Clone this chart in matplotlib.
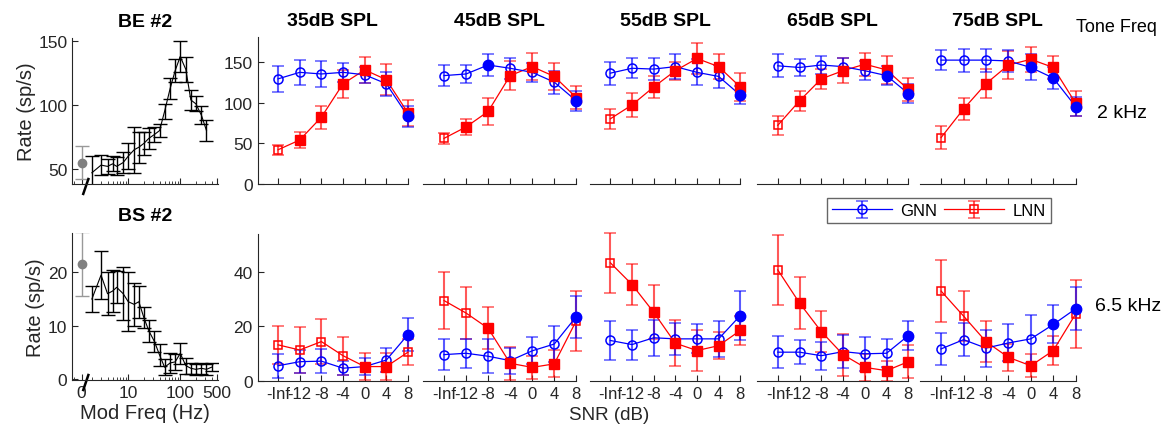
import numpy as np
import matplotlib
matplotlib.use('Agg')
import matplotlib.pyplot as plt
from matplotlib.ticker import LogLocator, NullFormatter

plt.rcParams['font.family'] = ['Liberation Sans', 'DejaVu Sans']

W, H = 1168, 435

levels = ['35dB SPL', '45dB SPL', '55dB SPL', '65dB SPL', '75dB SPL']
snr_labels = ['-Inf', '-12', '-8', '-4', '0', '4', '8']

# modulation transfer functions (left column)
mod_freq = [2, 3, 4, 5, 6, 8, 10, 13, 16, 20, 25, 32, 40, 50, 64, 80, 100,
            128, 160, 200, 256, 320, 400]
be_rate = [47, 53, 52, 54, 52, 55, 60, 65, 67, 70, 74, 77, 80, 95, 113, 127,
           138, 128, 104, 101, 92, 80]
be_err = [13, 8, 6, 6, 7, 8, 10, 18, 12, 9, 8, 6, 5, 6, 8, 9, 12, 10, 8, 6, 7, 8]
be_unmod, be_unmod_err = 55, 13
bs_rate = [15, 19.5, 16, 16.5, 17.2, 16, 14.5, 14, 14.5, 11.5, 9, 7, 4.5, 2.2,
           3, 3.2, 4.8, 2.5, 2.0, 1.8, 2.0, 1.8, 2.2]
bs_err = [2.5, 4.5, 4, 4, 3, 5, 5.5, 4, 3, 2, 2, 2, 2, 1.5, 1.8, 1.5, 2, 1.5,
          1, 1, 1, 1, 0.8]
bs_unmod, bs_unmod_err = 21.5, 6

# 2 kHz tone (BE #2)
gnn_2k = [[129, 137, 135, 137, 134, 123, 83],
          [133, 135, 146, 142, 137, 125, 102],
          [136, 142, 141, 144, 137, 132, 109],
          [145, 143, 146, 144, 139, 133, 111],
          [152, 152, 152, 151, 143, 130, 95]]
gnn_2k_err = [[16, 15, 16, 12, 10, 15, 13],
              [13, 11, 13, 13, 12, 14, 12],
              [14, 12, 14, 15, 16, 14, 11],
              [14, 10, 11, 11, 12, 12, 12],
              [12, 14, 14, 13, 16, 13, 12]]
gnn_2k_fill = [[0, 0, 0, 0, 0, 0, 1],
               [0, 0, 1, 0, 0, 0, 1],
               [0, 0, 0, 0, 0, 0, 1],
               [0, 0, 0, 0, 0, 1, 1],
               [0, 0, 0, 0, 1, 1, 1]]
lnn_2k = [[42, 54, 82, 123, 140, 128, 87],
          [56, 70, 89, 133, 144, 132, 106],
          [80, 97, 119, 139, 154, 144, 119],
          [72, 102, 129, 139, 147, 140, 116],
          [57, 92, 123, 146, 153, 143, 99]]
lnn_2k_err = [[6, 10, 14, 17, 16, 19, 16],
              [7, 10, 17, 18, 17, 17, 14],
              [12, 15, 13, 11, 19, 15, 17],
              [12, 12, 12, 15, 14, 17, 14],
              [14, 14, 18, 17, 15, 14, 15]]
lnn_2k_fill = [[0, 1, 1, 1, 1, 1, 1]] * 5

# 6.5 kHz tone (BS #2)
gnn_6k = [[5.5, 7, 7.2, 4.6, 5.2, 7.6, 17],
          [9.6, 10.1, 9, 7.4, 11, 13.5, 23.6],
          [14.8, 13.3, 15.8, 15.4, 15.4, 15.4, 24],
          [10.5, 10.5, 9.2, 10.7, 9.9, 10.1, 16.6],
          [11.7, 15.1, 12, 13.9, 15.4, 20.7, 26.5]]
gnn_6k_err = [[4.5, 4.2, 4.3, 2.6, 3, 4.3, 6.2],
              [5.7, 5.4, 6.2, 4.8, 5, 6.6, 7.7],
              [7.1, 5.5, 6.6, 5.8, 5.3, 6.5, 8.9],
              [5.9, 4.4, 5.2, 6.1, 6.3, 5.2, 5.3],
              [5.9, 6, 6.8, 6.8, 8.8, 7, 7.9]]
gnn_6k_fill = [[0, 0, 0, 0, 0, 0, 1],
               [0, 0, 0, 0, 0, 0, 1],
               [0, 0, 0, 0, 0, 0, 1],
               [0, 0, 0, 0, 0, 0, 1],
               [0, 0, 0, 0, 0, 1, 1]]
lnn_6k = [[13.2, 11.3, 14.4, 9.2, 5.2, 5.2, 10.5],
          [29.5, 24.9, 19.3, 6.4, 4.9, 6.2, 22.1],
          [43.4, 35.4, 25.2, 13.8, 11.1, 12.9, 18.5],
          [40.8, 28.6, 18.1, 9.6, 4.9, 3.7, 7],
          [33, 23.8, 14.4, 8.6, 5.5, 11.1, 24.6]]
lnn_6k_err = [[7, 8.3, 8.4, 7, 5, 5, 4.9],
              [10.5, 9.5, 7.7, 6, 4.2, 5, 11],
              [11, 7.7, 10, 8.5, 7.6, 5, 5.4],
              [13, 9.4, 7.5, 7.7, 4.9, 3.7, 6],
              [11.3, 9.3, 7.6, 5, 4.2, 5.4, 12.5]]
lnn_6k_fill = [[0, 0, 0, 0, 1, 1, 0],
               [0, 0, 1, 1, 1, 1, 0],
               [0, 1, 1, 1, 1, 1, 1],
               [0, 1, 1, 1, 1, 1, 1],
               [0, 0, 1, 1, 1, 1, 0]]

BLUE = (0, 0, 1)
RED = (1, 0, 0)
AXC = '0.15'
TICK_FS = 12.5


def px_box(left, top, right, bottom):
    return [left / W, 1 - bottom / H, (right - left) / W, (bottom - top) / H]


def style_axis(ax):
    for s in ['top', 'right']:
        ax.spines[s].set_visible(False)
    for s in ['left', 'bottom']:
        ax.spines[s].set_color(AXC)
    ax.tick_params(which='both', direction='in', colors=AXC, labelsize=TICK_FS)
    ax.tick_params(which='major', length=4.5)
    ax.tick_params(which='minor', length=2.5)


def draw_series(ax, vals, errs, fill, color, marker, ms):
    x = np.arange(1, len(vals) + 1)
    ecol = color + (0.65,)
    cont = ax.errorbar(x, vals, yerr=errs, color=color, lw=0.9, marker=marker,
                       ms=ms, mfc='none', mec=color, mew=1.1, ecolor=ecol,
                       elinewidth=1.5, capsize=4, capthick=1.5, clip_on=False)
    fx = [xi for xi, f in zip(x, fill) if f]
    fy = [v for v, f in zip(vals, fill) if f]
    ax.plot(fx, fy, ls='none', marker=marker, ms=ms + 1, color=color,
            clip_on=False, zorder=3)
    return cont


fig = plt.figure(figsize=(W / 100, H / 100), dpi=100)

lefts = [257.7, 423.3, 590, 757.3, 920]
rights = [408, 576.3, 740.3, 908.3, 1075.7]
rows = [
    dict(top=38.3, bottom=185, ylim=(0, 180), yticks=[0, 50, 100, 150],
         gnn=gnn_2k, gnn_err=gnn_2k_err, gnn_fill=gnn_2k_fill,
         lnn=lnn_2k, lnn_err=lnn_2k_err, lnn_fill=lnn_2k_fill),
    dict(top=235, bottom=381.7, ylim=(0, 54), yticks=[0, 20, 40],
         gnn=gnn_6k, gnn_err=gnn_6k_err, gnn_fill=gnn_6k_fill,
         lnn=lnn_6k, lnn_err=lnn_6k_err, lnn_fill=lnn_6k_fill),
]

handles = None
for r, row in enumerate(rows):
    for i in range(5):
        ax = fig.add_axes(px_box(lefts[i], row['top'], rights[i], row['bottom']))
        style_axis(ax)
        hl = draw_series(ax, row['lnn'][i], row['lnn_err'][i], row['lnn_fill'][i],
                         RED, 's', 6)
        hg = draw_series(ax, row['gnn'][i], row['gnn_err'][i], row['gnn_fill'][i],
                         BLUE, 'o', 6.5)
        if handles is None:
            handles = [hg, hl]
        ax.set_xlim(0.06, 7)
        ax.set_ylim(*row['ylim'])
        ax.set_xticks(range(1, 8))
        if r == 0:
            ax.set_xticklabels([])
            ax.set_title(levels[i], fontsize=14, fontweight='bold', pad=9)
        else:
            ax.set_xticklabels(snr_labels, fontsize=12)
        if i == 0:
            ax.set_yticks(row['yticks'])
        else:
            ax.spines['left'].set_visible(False)
            ax.set_yticks([])

# left column: MTFs
zero_pos = 1.27
mtf = [
    dict(top=39.3, bottom=185, rate=be_rate, err=be_err, unmod=be_unmod,
         unmod_err=be_unmod_err, ylim=(38.2, 152.3), yticks=[50, 100, 150],
         title='BE #2'),
    dict(top=234, bottom=381, rate=bs_rate, err=bs_err, unmod=bs_unmod,
         unmod_err=bs_unmod_err, ylim=(-0.2, 27.4), yticks=[0, 10, 20],
         title='BS #2'),
]
for r, m in enumerate(mtf):
    ax = fig.add_axes(px_box(72.3, m['top'], 218.3, m['bottom']))
    style_axis(ax)
    ax.set_xscale('log')
    n = len(m['rate'])
    ax.errorbar(mod_freq[:n], m['rate'], yerr=m['err'], color='k', lw=0.8,
                elinewidth=1.0, capsize=5, capthick=1.0)
    ax.errorbar([zero_pos], [m['unmod']], yerr=[m['unmod_err']], fmt='o',
                color='0.5', ecolor='0.6', ms=6, elinewidth=1.0, capsize=5)
    ax.set_xlim(0.84, 540)
    ax.set_ylim(*m['ylim'])
    ax.set_yticks(m['yticks'])
    ax.set_xticks([zero_pos, 10, 100, 500])
    ax.xaxis.set_minor_locator(LogLocator(base=10, subs=np.arange(2, 10), numticks=20))
    ax.xaxis.set_minor_formatter(NullFormatter())
    if r == 0:
        ax.set_xticklabels([])
    else:
        ax.set_xticklabels(['0', '10', '100', '500'])
        ax.set_xlabel('Mod Freq (Hz)', fontsize=14.5, color=AXC, labelpad=2)
    ax.set_ylabel('Rate (sp/s)', fontsize=14.5, color=AXC, labelpad=2)
    ax.set_title(m['title'], fontsize=14, fontweight='bold', pad=9)
    # axis break mark
    ax.plot([0.075, 0.11], [-0.068, 0.034], transform=ax.transAxes, color='k',
            lw=1.8, clip_on=False)

fig.text(1116.7 / W, 1 - 27.3 / H, 'Tone Freq', fontsize=13, ha='center', va='center')
fig.text(1121.7 / W, 1 - 113.3 / H, '2 kHz', fontsize=14, ha='center', va='center')
fig.text(1128 / W, 1 - 306.7 / H, '6.5 kHz', fontsize=14, ha='center', va='center')
fig.text(609 / W, 1 - 416 / H, 'SNR (dB)', fontsize=13.5, color=AXC, ha='center', va='center')

leg = fig.legend(handles, ['GNN', 'LNN'], loc='lower left',
                 bbox_to_anchor=px_box(826.7, 195, 1050.7, 224.3), mode='expand',
                 ncol=2, fontsize=12, frameon=True, fancybox=False,
                 handlelength=3.6, borderaxespad=0, borderpad=0.3,
                 columnspacing=1.0, handletextpad=0.5)
leg.get_frame().set_edgecolor('0.25')
leg.get_frame().set_linewidth(1.0)

fig.savefig('out.png', dpi=100)
